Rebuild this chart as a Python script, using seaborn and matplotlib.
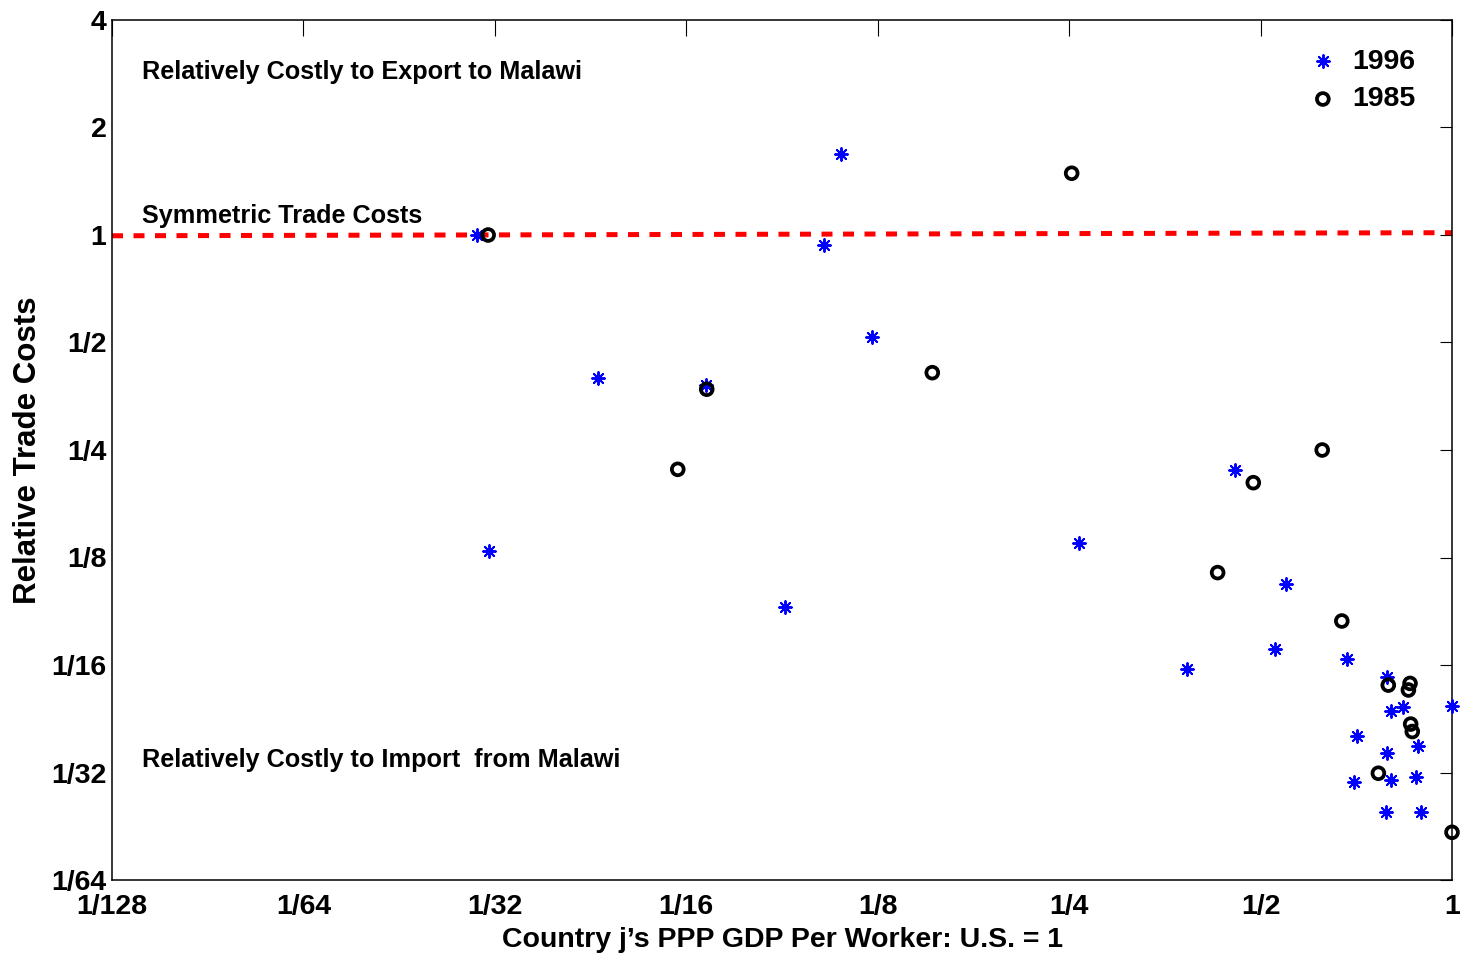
import numpy as np
import pandas as pd
import matplotlib
matplotlib.use("Agg")
import matplotlib.pyplot as plt
import seaborn as sns

# Relative trade costs against partner income (PPP GDP per worker, U.S. = 1)
gdp_1996 = [0.0293, 0.0306, 0.0454, 0.0671, 0.0894, 0.1030, 0.1094, 0.1224,
            0.2593, 0.3836, 0.4562, 0.526, 0.548, 0.683, 0.791, 0.803, 0.838,
            1.0, 0.710, 0.885, 0.789, 0.701, 0.801, 0.878, 0.788, 0.893]
cost_1996 = [1.0, 0.1306, 0.397, 0.380, 0.0907, 0.937, 1.686, 0.519,
             0.137, 0.0608, 0.2198, 0.0693, 0.1051, 0.0648, 0.0580, 0.0465, 0.0478,
             0.0480, 0.0396, 0.0371, 0.0355, 0.0293, 0.0297, 0.0303, 0.0243, 0.0242]

gdp_1985 = [0.0305, 0.0606, 0.0673, 0.1523, 0.2523, 0.428, 0.487, 0.625,
            0.671, 0.794, 0.859, 0.854, 0.861, 0.866, 0.766, 1.0]
cost_1985 = [1.0, 0.2207, 0.370, 0.4116, 1.489, 0.1134, 0.2025, 0.25,
             0.0830, 0.0549, 0.0555, 0.0532, 0.0427, 0.0407, 0.0311, 0.02125]

# Symmetric-cost reference line
ref_x = [1 / 128, 1.0]
ref_y = [0.995, 1.015]

x_ticks = [1 / 128, 1 / 64, 1 / 32, 1 / 16, 1 / 8, 1 / 4, 1 / 2, 1]
x_tick_labels = ["1/128", "1/64", "1/32", "1/16", "1/8", "1/4", "1/2", "1"]
y_ticks = [1 / 64, 1 / 32, 1 / 16, 1 / 8, 1 / 4, 1 / 2, 1, 2, 4]
y_tick_labels = ["1/64", "1/32", "1/16", "1/8", "1/4", "1/2", "1", "2", "4"]

sns.set_style("white")
plt.rcParams["font.family"] = ["Liberation Sans", "DejaVu Sans"]
plt.rcParams["font.weight"] = "bold"
plt.rcParams["axes.labelweight"] = "bold"
plt.rcParams["text.color"] = "black"
plt.rcParams["axes.labelcolor"] = "black"
plt.rcParams["xtick.color"] = "black"
plt.rcParams["ytick.color"] = "black"

df96 = pd.DataFrame({"gdp": gdp_1996, "cost": cost_1996})
df85 = pd.DataFrame({"gdp": gdp_1985, "cost": cost_1985})
df_ref = pd.DataFrame({"gdp": ref_x, "cost": ref_y})

fig = plt.figure(figsize=(14.61, 9.61), dpi=100)
ax = fig.add_axes([112 / 1461, 1 - 880 / 961, 1340 / 1461, 860 / 961])

sns.lineplot(data=df_ref, x="gdp", y="cost", ax=ax, color="red",
             linewidth=3.6, dashes=False, legend=False)
ax.lines[0].set_dashes((2.2, 2.1))
ax.lines[0].set_dash_capstyle("butt")

asterisk = (8, 2, 0)
sns.scatterplot(data=df96, x="gdp", y="cost", ax=ax, marker=asterisk,
                color="blue", s=85, linewidth=1.4, label="1996", zorder=3)
sns.scatterplot(data=df85, x="gdp", y="cost", ax=ax, marker="o",
                facecolor="none", edgecolor="black", s=72, linewidth=2.7,
                label="1985", zorder=3)
for coll in ax.collections:
    coll.set_clip_on(False)

ax.set_xscale("log", base=2)
ax.set_yscale("log", base=2)
ax.set_xlim(1 / 128, 1)
ax.set_ylim(1 / 64, 4)
ax.set_xticks(x_ticks)
ax.set_xticklabels(x_tick_labels)
ax.set_yticks(y_ticks)
ax.set_yticklabels(y_tick_labels)
ax.minorticks_off()

ax.tick_params(axis="both", which="major", direction="in", top=True, right=True,
               labelsize=20.5, width=0.8, color="black", labelcolor="black")
ax.tick_params(axis="x", length=11.5, pad=10)
ax.tick_params(axis="y", length=9, pad=4)
for lab in ax.get_xticklabels() + ax.get_yticklabels():
    lab.set_fontweight("bold")

for sp in ax.spines.values():
    sp.set_visible(True)
    sp.set_color("black")
    sp.set_linewidth(1.1)

ax.set_xlabel("Country j\u2019s PPP GDP Per Worker: U.S. = 1", fontsize=20.5,
              fontweight="bold", labelpad=5, color="black")
ax.set_ylabel("Relative Trade Costs", fontsize=22.5, fontweight="bold",
              labelpad=6, color="black")

txt_kw = dict(transform=ax.transAxes, fontsize=18.2, fontweight="bold",
              ha="left", va="center", color="black")
ax.text(0.0224, 0.9395, "Relatively Costly to Export to Malawi", **txt_kw)
ax.text(0.0224, 0.7725, "Symmetric Trade Costs", **txt_kw)
ax.text(0.0224, 0.1400, "Relatively Costly to Import  from Malawi", **txt_kw)

leg = ax.legend(loc="upper right", bbox_to_anchor=(0.988, 0.990), frameon=False,
                fontsize=20.5, handlelength=1.0, handletextpad=0.55,
                labelspacing=0.42, borderaxespad=0.3)
for t in leg.get_texts():
    t.set_fontweight("bold")
    t.set_color("black")

fig.savefig("out.png", dpi=100)
